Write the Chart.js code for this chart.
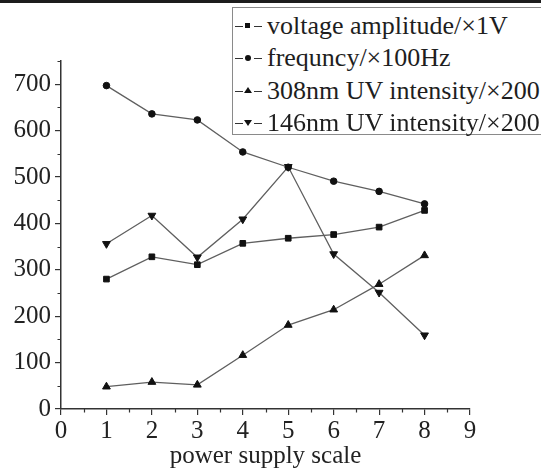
<!DOCTYPE html>
<html>
<head>
<meta charset="utf-8">
<script src="https://cdn.jsdelivr.net/npm/chart.js@4/dist/chart.umd.min.js"></script>
<style>
    body { margin: 0; background: #fff; }
    #wrap { position: relative; width: 541px; height: 474px; overflow: hidden; background: #fff; }
    #topBar { position: absolute; left: 0; top: 0; width: 541px; height: 3px; background: #1c1c1c; }
    #legend {
        position: absolute; left: 232px; top: 7px; width: 340px; height: 126px;
        border: 1.5px solid #8a8a8a; background: #fff;
        font-family: "Liberation Serif", "Times New Roman", serif; font-size: 26px; color: #1e1e1e;
    }
    .row { position: absolute; left: 0; height: 30px; line-height: 30px; white-space: nowrap; }
    .sample { position: absolute; left: 2px; top: 14px; width: 27px; height: 3px; }
    .dash { position: absolute; top: 1px; width: 8px; height: 0; border-top: 1px solid #333; }
    .mk { position: absolute; }
    .label { position: absolute; left: 34px; top: 0; }
</style>
</head>
<body>
<div id="wrap">
    <canvas id="chart" width="541" height="474"></canvas>
    <div id="topBar"></div>
    <div id="legend"></div>
</div>
<script>
const powerScale = [1, 2, 3, 4, 5, 6, 7, 8];
const voltage = [280, 328, 311, 357, 368, 376, 392, 428];
const frequency = [697, 636, 623, 554, 521, 491, 469, 442];
const uv308 = [48, 58, 52, 116, 181, 214, 269, 331];
const uv146 = [356, 417, 327, 409, 522, 334, 251, 159];
const seriesNames = ["voltage amplitude/×1V", "frequncy/×100Hz", "308nm UV intensity/×200", "146nm UV intensity/×200"];
const xTicks = [0, 1, 2, 3, 4, 5, 6, 7, 8, 9];
const yTicks = [0, 100, 200, 300, 400, 500, 600, 700];
const xMin = 0, xMax = 9, yMin = 0, yMax = 750;

const serif = "'Liberation Serif', 'Times New Roman', serif";
const lineColor = "#5f5f5f";
const axisColor = "#333";

let toPoints = (values) => values.map((v, i) => ({ x: powerScale[i], y: v }));

let makeSet = (name, values, style, radius, rotation) => ({
    label: name,
    data: toPoints(values),
    borderColor: lineColor,
    borderWidth: 1.3,
    pointStyle: style,
    pointRadius: radius,
    pointRotation: rotation,
    pointBackgroundColor: "#111",
    pointBorderColor: "#111",
    pointBorderWidth: 1,
    tension: 0
});

// short minor ticks between the major ones
const minorTicks = {
    id: "minorTicks",
    afterDraw: (chart) => {
        const ctx = chart.ctx;
        const xs = chart.scales.x, ys = chart.scales.y;
        const area = chart.chartArea;
        ctx.save();
        ctx.strokeStyle = axisColor;
        ctx.lineWidth = 1.2;
        ctx.beginPath();
        for (let v = 50; v <= yMax; v += 100) {
            let py = Math.round(ys.getPixelForValue(v)) + 0.5;
            ctx.moveTo(area.left - 3.5, py);
            ctx.lineTo(area.left, py);
        }
        for (let v = 0.5; v < xMax; v += 1) {
            let px = Math.round(xs.getPixelForValue(v)) + 0.5;
            ctx.moveTo(px, area.bottom);
            ctx.lineTo(px, area.bottom + 3.5);
        }
        ctx.stroke();
        ctx.restore();
    }
};

new Chart(document.getElementById("chart"), {
    type: "line",
    data: {
        datasets: [
            makeSet(seriesNames[0], voltage, "rect", 4, 0),
            makeSet(seriesNames[1], frequency, "circle", 3.3, 0),
            makeSet(seriesNames[2], uv308, "triangle", 4.5, 0),
            makeSet(seriesNames[3], uv146, "triangle", 4.5, 180)
        ]
    },
    options: {
        responsive: false,
        animation: false,
        layout: { padding: { left: 0, top: 61, right: 71, bottom: 0 } },
        plugins: { legend: { display: false }, tooltip: { enabled: false } },
        scales: {
            x: {
                type: "linear",
                min: xMin,
                max: xMax,
                afterFit: (scale) => { scale.height = 65; },
                afterBuildTicks: (scale) => { scale.ticks = xTicks.map(v => ({ value: v })); },
                ticks: { color: "#222", padding: 1, autoSkip: false, maxRotation: 0, font: { family: serif, size: 25 } },
                grid: { drawOnChartArea: false, tickLength: 6, color: axisColor, lineWidth: 1.2 },
                border: { display: true, color: axisColor, width: 1.5 },
                title: {
                    display: true, text: "power supply scale", color: "#222",
                    font: { family: serif, size: 25 }, padding: { top: 0, bottom: 3 }
                }
            },
            y: {
                min: yMin,
                max: yMax,
                afterFit: (scale) => { scale.width = 61; },
                afterBuildTicks: (scale) => { scale.ticks = yTicks.map(v => ({ value: v })); },
                ticks: { color: "#222", padding: 4, autoSkip: false, font: { family: serif, size: 25 } },
                grid: { drawOnChartArea: false, tickLength: 6, color: axisColor, lineWidth: 1.2 },
                border: { display: true, color: axisColor, width: 1.5 }
            }
        }
    },
    plugins: [minorTicks]
});

// legend box drawn as html so the text stays real text
const legend = document.getElementById("legend");
const rowTops = [3, 35, 68, 100];
const markers = [
    "left:10px;top:-2px;width:5px;height:5px;background:#111;",
    "left:10px;top:-2px;width:6px;height:6px;border-radius:50%;background:#111;",
    "left:9px;top:-3px;width:0;height:0;border-left:4px solid transparent;border-right:4px solid transparent;border-bottom:6px solid #111;",
    "left:9px;top:-2px;width:0;height:0;border-left:4px solid transparent;border-right:4px solid transparent;border-top:6px solid #111;"
];
seriesNames.forEach((name, i) => {
    legend.innerHTML += `<div class="row" style="top:${rowTops[i]}px">
        <span class="sample"><span class="dash" style="left:0"></span><span class="mk" style="${markers[i]}"></span><span class="dash" style="left:19px"></span></span>
        <span class="label">${name}</span></div>`;
});
</script>
</body>
</html>
